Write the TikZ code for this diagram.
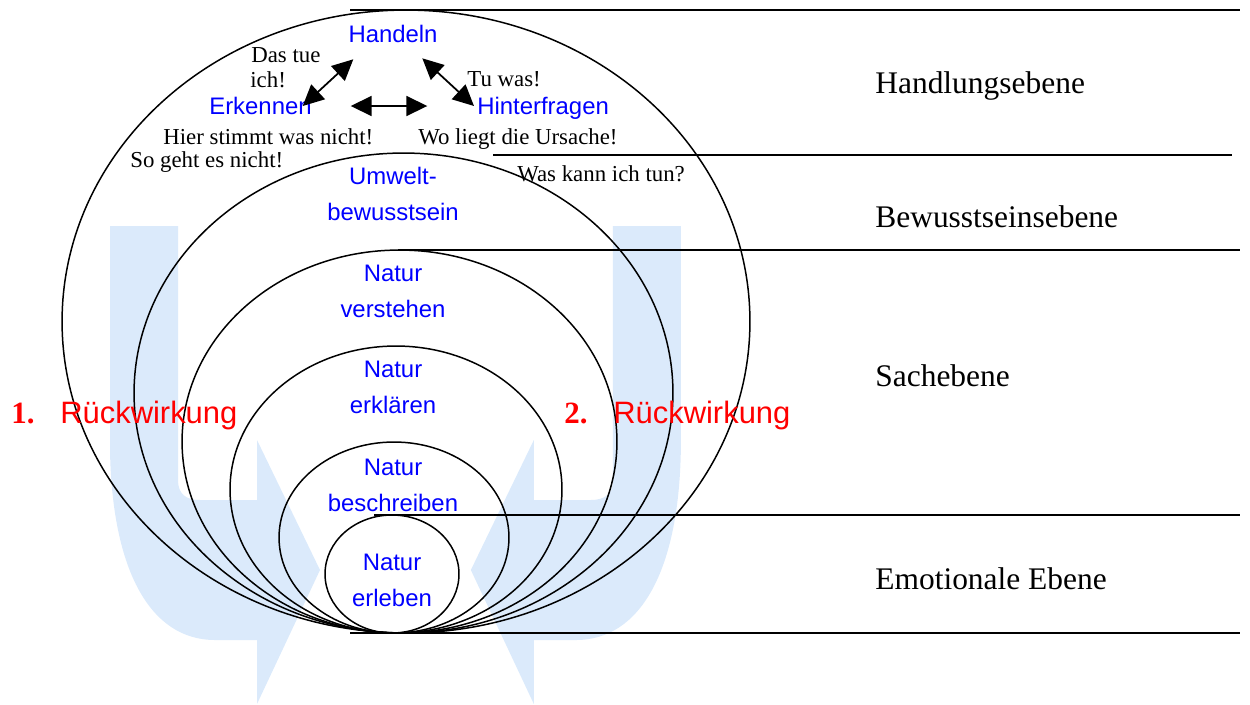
\documentclass[tikz,border=0pt]{standalone}
\usepackage{fontspec}
\setmainfont{Liberation Serif}
\setsansfont{Liberation Sans}
\usepackage{xcolor}
\usepackage{tikz}
\usetikzlibrary{arrows.meta,positioning}

\definecolor{wmblue}{RGB}{219,234,251}

\begin{document}
\begin{tikzpicture}[x=0.02cm, y=-0.02cm,
    ring/.style={line width=0.85pt},
    level/.style={line width=0.85pt},
    stage/.style={text=blue, font=\sffamily\fontsize{13.6}{20.4}\selectfont, align=center, inner sep=0pt},
    remark/.style={font=\fontsize{13}{15}\selectfont, inner sep=0pt, anchor=base west},
    plane/.style={font=\fontsize{17.9}{21}\selectfont, inner sep=0pt, anchor=base west},
    feedback/.style={text=red, font=\sffamily\fontsize{17.6}{21}\selectfont, inner sep=0pt, anchor=base west},
    fbnum/.style={text=red, font=\bfseries\fontsize{17.6}{21}\selectfont, inner sep=0pt, anchor=base west},
    dbl/.style={line width=1pt, {Triangle[length=0.42cm, width=0.4cm]}-{Triangle[length=0.42cm, width=0.4cm]}}]

    \useasboundingbox (0,0) rectangle (1250,704);

    % Watermark
    \foreach \sx/\dx in {1/0cm, -1/15.82cm} {
        \begin{scope}[xshift=\dx, xscale=\sx]
            \fill[wmblue] (110,226) -- (110,450) .. controls (112,570) and (150,640) .. (215,640)
                -- (257,640) -- (257,704) -- (320,570) -- (257,440) -- (257,500) -- (200,500)
                .. controls (186,500) and (178,494) .. (178,480) -- (178,226) -- cycle;
        \end{scope}
    }

    % Ellipses
    \foreach \cx/\cy/\rx/\ry in {406/321.5/6.88/6.23, 403.5/393/5.39/4.8, 399.5/441.5/4.35/3.83,
                                 396/489.5/3.32/2.87, 394/537.5/2.3/1.91, 392/574/1.34/1.18}
        \draw[ring] (\cx,\cy) ellipse [x radius=\rx cm, y radius=\ry cm];

    % Planes
    \draw[level] (350,10) -- (1240,10);
    \draw[level] (493,155) -- (1232,155);
    \draw[level] (398,250) -- (1240,250);
    \draw[level] (374,515) -- (1240,515);
    \draw[level] (350,633) -- (1240,633);

    \node[plane] (handlung) at (875,93) {Handlungsebene};
    \node[plane] (bewusst) at (875,227) {Bewusstseinsebene};
    \node[plane] (sache) at (875,386) {Sachebene};
    \node[plane] (emotion) at (875,589) {Emotionale Ebene};

    % Stages
    \node[stage, anchor=base] (handeln) at (393,42) {Handeln};
    \node[stage, anchor=base west] (erkennen) at (209,114) {Erkennen};
    \node[stage, anchor=base west] (hinterfragen) at (477,114) {Hinterfragen};
    \node[stage] (umwelt) at (393,194.3) {Umwelt-\\bewusstsein};
    \node[stage] (verstehen) at (393,291.4) {Natur\\verstehen};
    \node[stage] (erklaeren) at (393,387.4) {Natur\\erkl\"aren};
    \node[stage] (beschreiben) at (393,485) {Natur\\beschreiben};
    \node[stage] (erleben) at (392,580.4) {Natur\\erleben};

    % Remarks
    \node[remark] (tue) at (251,62) {Das tue};
    \node[remark] (ich) at (250,87) {ich!};
    \node[remark] (tuwas) at (467,86) {Tu was!};
    \node[remark] (stimmt) at (163,144) {Hier stimmt was nicht!};
    \node[remark] (ursache) at (418,144) {Wo liegt die Ursache!};
    \node[remark] (sogeht) at (130,167) {So geht es nicht!};
    \node[remark] (tun) at (517,181.7) {Was kann ich tun?};

    % Cycle arrows
    \coordinate (erk-in) at (302.7,106);
    \coordinate (hd-l) at (353.3,59.3);
    \coordinate (mid-l) at (350.7,106);
    \coordinate (mid-r) at (427.3,106);
    \coordinate (hd-r) at (422.3,58.3);
    \coordinate (hint-in) at (474,106);
    \draw[dbl] (erk-in) -- (hd-l);
    \draw[dbl] (mid-l) -- (mid-r);
    \draw[dbl] (hd-r) -- (hint-in);

    % Feedback
    \node[fbnum] (one) at (11,423) {1.};
    \node[feedback] (rueck1) at (60,423) {R\"uckwirkung};
    \node[fbnum] (two) at (564,423) {2.};
    \node[feedback] (rueck2) at (613,423) {R\"uckwirkung};
\end{tikzpicture}
\end{document}
